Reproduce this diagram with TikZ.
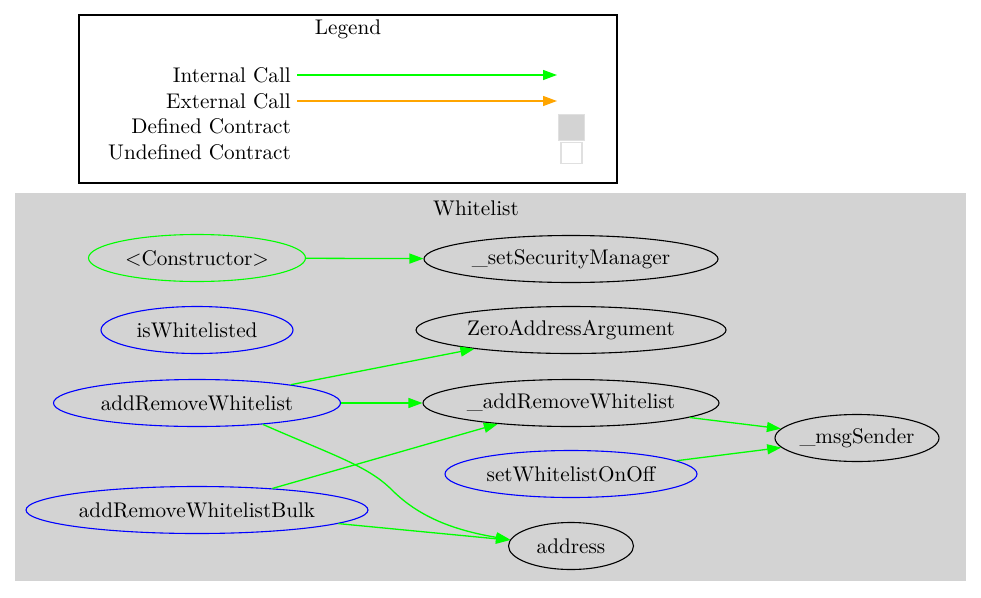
\documentclass[tikz,border=0pt]{standalone}
\usepackage{fontspec}
\setmainfont{lmroman10-regular.otf}
\usepackage{xcolor}
\usetikzlibrary{shapes.geometric, arrows.meta}

\definecolor{gvgray}{HTML}{D3D3D3}
\definecolor{gvorange}{HTML}{FFA500}
\newcommand\gvsize{\fontsize{21.2}{25}\selectfont}

\begin{document}
\begin{tikzpicture}[
    x=1pt, y=-1pt,
    every node/.style={
        font=\gvsize
    },
    fn/.style={
        ellipse,
        draw,
        line width=1.1pt,
        inner xsep=-35pt,
        inner ysep=0pt,
        minimum height=47pt
    },
    pubfn/.style={
        fn,
        draw=blue
    },
    ctorfn/.style={
        fn,
        draw=green
    },
    call/.style={
        -{Triangle[length=14pt,width=10pt]},
        draw=green,
        line width=1.3pt
    },
    extcall/.style={
        call,
        draw=gvorange
    },
    legendlabel/.style={
        anchor=east,
        inner sep=0pt
    }
]

\useasboundingbox (0,0) rectangle (981,597);

% legend
\draw[line width=1.1pt] (79,15) rectangle (617,183);
\node (legendtitle) at (348,29) {Legend};

\node[legendlabel] (lgint) at (291,75) {Internal Call};
\node[legendlabel] (lgext) at (291,101) {External Call};
\node[legendlabel] (lgdef) at (291,126) {Defined Contract};
\node[legendlabel] (lgundef) at (291,152) {Undefined Contract};

\coordinate (lgintend) at (557,75);
\coordinate (lgextend) at (557,101);

\node[draw=gvgray!70, fill=gvgray, line width=1pt, minimum size=26pt, inner sep=0pt]
    (lgdefbox) at (571,127) {};
\node[draw=gvgray!70, fill=white, line width=1.4pt, minimum size=21pt, inner sep=0pt]
    (lgundefbox) at (571.5,153) {};

\draw[call] (lgint.east) ++(6,0) -- (lgintend);
\draw[extcall] (lgext.east) ++(6,0) -- (lgextend);

% contract cluster
\fill[gvgray] (15,193) rectangle (966,581);
\node (clustertitle) at (476,208) {Whitelist};

\node[ctorfn, minimum width=217pt] (ctor) at (197,258) {<Constructor>};
\node[fn, minimum width=294pt] (setsec) at (571,259) {\_setSecurityManager};

\node[pubfn, minimum width=192pt] (iswl) at (197,330) {isWhitelisted};
\node[fn, minimum width=310pt] (zeroaddr) at (571,330) {ZeroAddressArgument};

\node[pubfn, minimum width=287pt] (arwl) at (197,403) {addRemoveWhitelist};
\node[fn, minimum width=296pt] (iarwl) at (571,403) {\_addRemoveWhitelist};

\node[fn, minimum width=164pt] (msgsender) at (857,438) {\_msgSender};
\node[pubfn, minimum width=252pt] (setwl) at (571,474) {setWhitelistOnOff};

\node[pubfn, minimum width=342pt] (arwlbulk) at (197,510) {addRemoveWhitelistBulk};
\node[fn, minimum width=125pt] (addr) at (571,546) {address};

\draw[call] (ctor) -- (setsec);
\draw[call] (arwl) -- (zeroaddr);
\draw[call] (arwl) -- (iarwl);
\draw[call] (arwl.-18) .. controls (335,456) and (368,466) .. (392,490)
    .. controls (418,516) and (452,530) .. (addr.174);
\draw[call] (arwlbulk) -- (iarwl);
\draw[call] (arwlbulk) -- (addr);
\draw[call] (iarwl) -- (msgsender);
\draw[call] (setwl) -- (msgsender);

\end{tikzpicture}
\end{document}
